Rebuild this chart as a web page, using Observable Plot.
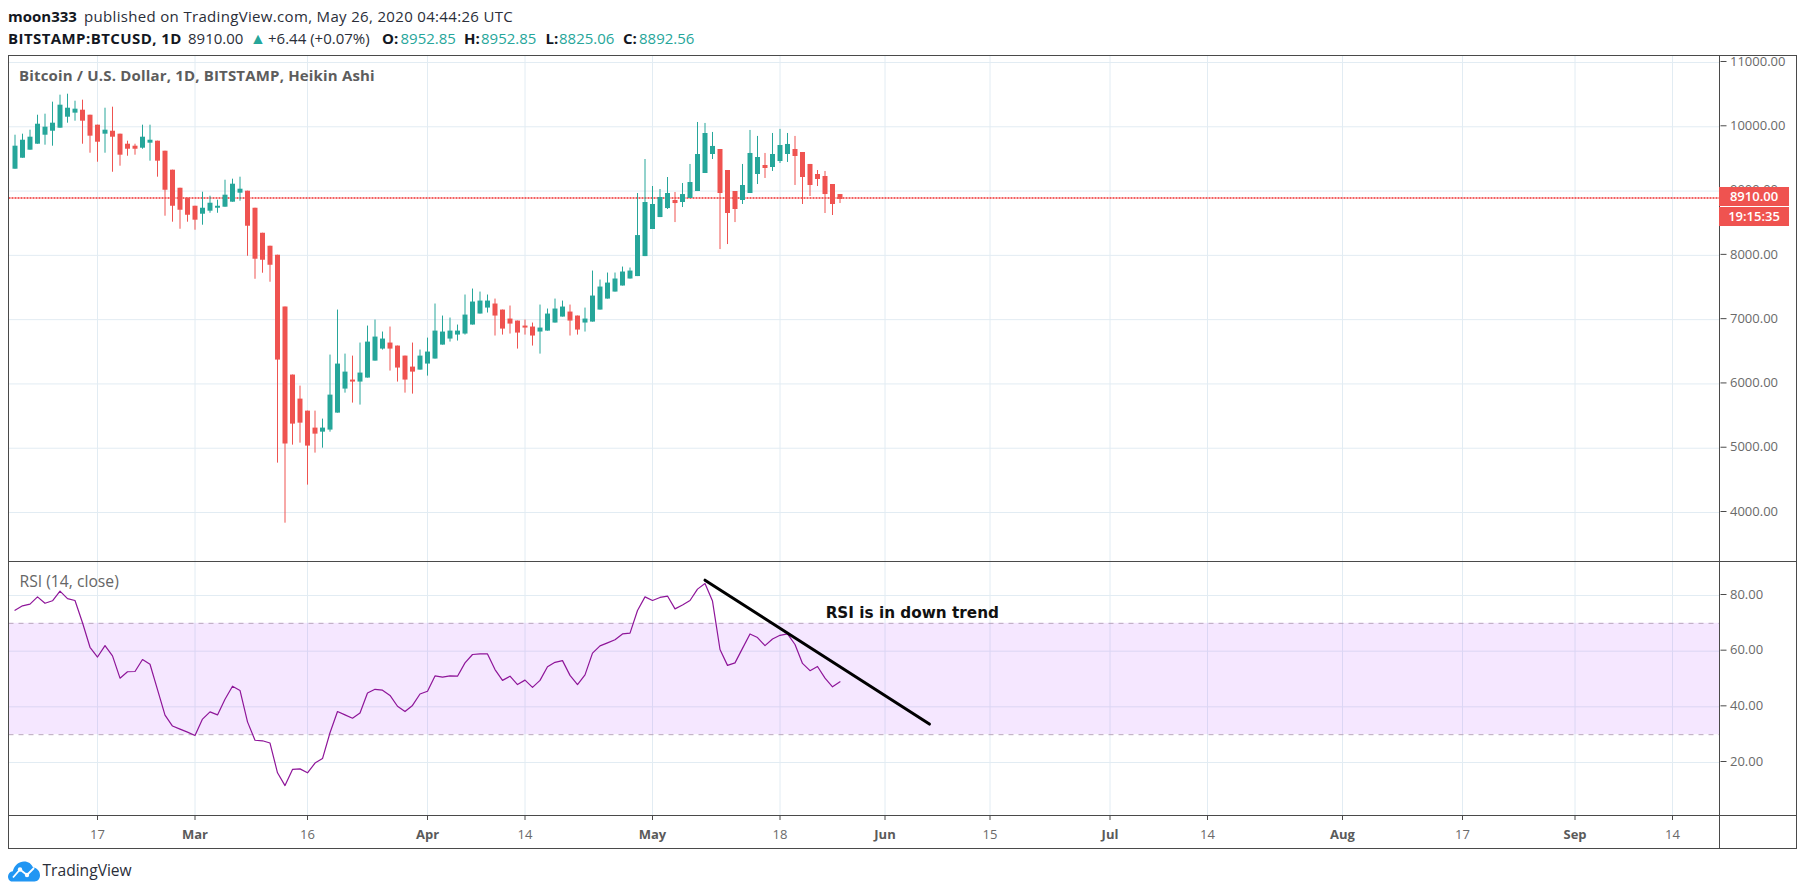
<!DOCTYPE html>
<html>
<head>
<meta charset="utf-8">
<script src="https://cdn.jsdelivr.net/npm/d3@7"></script>
<script src="https://cdn.jsdelivr.net/npm/@observablehq/plot@0.6"></script>
<style>
html,body{margin:0;padding:0;background:#fff;width:1805px;height:895px;overflow:hidden}
#page{position:relative;width:1805px;height:895px;font-family:"Open Sans",sans-serif}
.t{position:absolute;white-space:nowrap;line-height:1}
.b{font-weight:700;color:#131722}
.r{color:#2a2e39}
.g{color:#26a69a}
.ln{position:absolute;background:#4a4a4a}
.tag{position:absolute;left:1719px;width:70px;height:19px;background:#ef5350;color:#fff;font-weight:600;font-size:13px;line-height:19px;text-align:center}
svg.plot{position:absolute;left:0}
</style>
</head>
<body>
<div id="page"></div>
<script>
const startDate = "2020-02-06";
const opens = [9340,9511,9636,9729,9869,9931,9978,10149,10212,10258,10180,10025,9885,9931,9885,9729,9698,9667,9745,9776,9620,9325,9044,8889,8764,8640,8687,8733,8749,8827,8967,8998,8733,8344,8142,8002,7196,6138,5764,5577,5313,5250,5282,5546,5920,6060,6029,6091,6355,6542,6636,6589,6433,6262,6215,6309,6387,6604,6698,6760,6776,6916,7087,7180,7243,7149,7009,6978,6900,6885,6807,6822,6947,7040,7118,7056,6947,6962,7149,7320,7429,7523,7632,7670,7981,8402,8588,8728,8853,8822,8884,8993,9273,9569,9647,9320,8993,8853,8962,9258,9398,9367,9460,9569,9647,9600,9414,9258,9227,9102,8946];
const highs = [9869,9885,9947,10180,10196,10383,10492,10507,10398,10414,10180,10025,10289,10305,9885,9776,9729,10025,10025,9776,9620,9325,9044,8889,8764,8982,8920,8858,9169,9185,9216,8998,8733,8344,8142,8002,7196,6138,5966,5577,5577,5453,6449,7149,6464,6433,6636,6900,6994,6807,6885,6589,6433,6636,6527,6713,7243,7056,7025,6916,7383,7476,7429,7383,7320,7149,7212,6978,6994,6947,7227,7165,7320,7289,7227,7056,7180,7756,7616,7725,7725,7818,7803,8962,9491,9071,9024,9211,8978,9118,9414,10067,10052,9912,9647,9320,8993,9414,9943,9850,9585,9896,9959,9896,9850,9600,9414,9320,9305,9102,8946];
const lows = [9340,9511,9636,9729,9714,9698,9978,10056,10087,9729,9589,9449,9589,9293,9387,9542,9558,9651,9465,9216,8609,8516,8406,8516,8391,8469,8655,8655,8749,8827,8842,7986,7628,7722,7582,4768,3834,5048,5079,4426,4924,5001,5250,5546,5857,5702,5671,6091,6355,6527,6200,6029,5857,5842,6215,6122,6387,6604,6651,6667,6760,6916,7087,7103,6745,6760,6776,6542,6760,6589,6464,6822,6947,7040,6745,6760,6807,6962,7149,7320,7429,7523,7632,7670,7981,8402,8588,8713,8510,8744,8884,8993,9273,9491,8090,8168,8510,8791,8962,9102,9196,9305,9429,9445,9087,8791,8915,9071,8651,8620,8806];
const closes = [9698,9791,9838,10040,9994,10056,10336,10289,10274,10087,9854,9760,9947,9838,9558,9651,9651,9838,9791,9465,9013,8764,8702,8624,8547,8733,8811,8764,8936,9107,9029,8453,7940,7924,7846,6371,5064,5375,5390,5033,5219,5313,5826,6309,6184,6029,6169,6651,6729,6698,6542,6247,6060,6184,6433,6496,6822,6807,6822,6822,7071,7274,7289,7289,7056,6853,6931,6791,6869,6745,6869,7087,7165,7196,6978,6838,7009,7367,7507,7569,7632,7741,7756,8308,8822,8791,8900,8962,8806,8946,9133,9569,9896,9694,8962,8651,8713,9087,9585,9522,9351,9569,9709,9725,9538,9211,9087,9180,8946,8791,8869];
const rsi = [74.7,76.3,76.9,79.5,77.2,78.1,81.6,78.9,78.2,70.2,61.4,57.9,62.0,58.3,50.3,52.6,52.7,57.0,55.3,46.2,37.0,33.1,32.0,30.9,29.7,35.6,38.2,37.1,42.7,47.4,45.9,34.6,28.0,27.8,27.0,16.3,11.7,17.5,17.7,16.3,19.8,21.4,30.7,38.3,37.1,35.9,37.8,45.0,46.3,46.0,44.1,40.2,38.3,40.5,44.6,45.6,51.1,50.7,51.1,51.0,55.8,58.8,59.0,59.0,53.4,49.5,51.0,48.0,49.6,47.0,49.5,54.4,56.0,56.6,51.3,48.0,51.5,59.3,61.9,63.0,64.1,66.2,66.5,74.6,79.5,78.2,79.3,79.8,75.2,76.6,78.2,82.3,84.3,78.0,60.6,54.9,55.8,61.0,66.2,64.9,62.0,64.4,65.7,66.2,62.4,55.6,53.0,54.5,50.3,47.2,49.0];

const priceTicks = [4000,5000,6000,7000,8000,9000,10000,11000];
const rsiTicks = [20,40,60,80];
const rsiBand = [30,70];
const dayTicks = ["2020-02-17","2020-03-16","2020-04-14","2020-05-18","2020-06-15","2020-07-14","2020-08-17","2020-09-14"].map(s=>new Date(s));
const monthTicks = ["2020-03-01","2020-04-01","2020-05-01","2020-06-01","2020-07-01","2020-08-01","2020-09-01"].map(s=>new Date(s));
const lastClose = 8892.56;
const trendDates = ["2020-05-08T00:00Z","2020-06-06T22:00Z"].map(s=>new Date(s));
const trendValues = [85.5,33.8];
const noteDate = new Date("2020-05-24T02:00Z");
const noteValue = 71.8;
const xDomain = [new Date("2020-02-05T04:48Z"), new Date("2020-09-20T08:00Z")];

const TEAL="#26a69a", RED="#ef5350", GRID="#e2ecf3", FONT='"Open Sans",sans-serif';
const t0 = new Date(startDate);
const candles = opens.map((o,i)=>({date:d3.utcDay.offset(t0,i),open:o,high:highs[i],low:lows[i],close:closes[i],color:closes[i]>=o?TEAL:RED}));
const rsiRows = rsi.map((v,i)=>({date:d3.utcDay.offset(t0,i),value:v}));
const allDates = dayTicks.concat(monthTicks);
const common = {width:1805,marginLeft:8.5,marginRight:85.5,style:{fontFamily:FONT,fontSize:"13px",background:"transparent",color:"#4a4a4a",overflow:"visible"}};

const price = Plot.plot({...common,height:562,marginTop:56,marginBottom:1,
  x:{type:"utc",domain:xDomain,axis:null},
  y:{domain:[3238,11093.3],label:null},
  color:{type:"identity"},
  marks:[
    Plot.ruleX(allDates,{stroke:GRID}),
    Plot.ruleY(priceTicks,{stroke:GRID}),
    Plot.ruleY([lastClose],{stroke:"#f02e2e",strokeWidth:1.3,strokeDasharray:"2,1"}),
    Plot.ruleX(candles,{x:"date",y1:"low",y2:"high",stroke:"color",strokeWidth:1}),
    Plot.ruleX(candles,{x:"date",y1:"open",y2:"close",stroke:"color",strokeWidth:5}),
    Plot.axisY(priceTicks,{anchor:"right",tickSize:6,tickPadding:4,tickFormat:d=>d.toFixed(2),label:null,fill:"#6a6a6a",textStroke:"none",dy:-1})
  ]});

const rsiPlot = Plot.plot({...common,height:287,marginTop:0,marginBottom:33,
  x:{type:"utc",domain:xDomain},
  y:{domain:[0.6,91.86],label:null},
  marks:[
    Plot.ruleX(allDates,{stroke:GRID}),
    Plot.ruleY(rsiTicks,{stroke:GRID}),
    Plot.rect([rsiBand],{x1:()=>xDomain[0],x2:()=>xDomain[1],y1:d=>d[0],y2:d=>d[1],fill:"#9915ff",fillOpacity:0.1}),
    Plot.ruleY(rsiBand,{stroke:"#b8a6bd",strokeDasharray:"5,5"}),
    Plot.line(rsiRows,{x:"date",y:"value",stroke:"#8e1599",strokeWidth:1.2}),
    Plot.line(trendDates.map((d,i)=>({d,v:trendValues[i]})),{x:"d",y:"v",stroke:"#000",strokeWidth:3}),
    Plot.text([noteValue],{x:()=>noteDate,y:d=>d,text:()=>"RSI is in down trend",textAnchor:"start",lineAnchor:"bottom",fontFamily:"DejaVu Sans",fontWeight:"bold",fontSize:15.25,fill:"#111"}),
    Plot.axisY(rsiTicks,{anchor:"right",tickSize:6,tickPadding:4,tickFormat:d=>d.toFixed(2),label:null,fill:"#6a6a6a",dy:-1}),
    Plot.axisX(dayTicks,{anchor:"bottom",tickSize:4,tickPadding:9,tickFormat:d3.utcFormat("%-d"),label:null,fill:"#6a6a6a"}),
    Plot.axisX(monthTicks,{anchor:"bottom",tickSize:4,tickPadding:9,tickFormat:d3.utcFormat("%b"),label:null,fill:"#5a5a5a",fontWeight:"bold"})
  ]});

const page = document.getElementById("page");
price.style.top="0px"; rsiPlot.style.top="561px";
page.append(price,rsiPlot);

function line(l,t,w,h){const e=document.createElement("div");e.className="ln";e.style.cssText=`left:${l}px;top:${t}px;width:${w}px;height:${h}px`;page.append(e)}
line(8,55,1789,1);line(8,561,1789,1);line(8,815,1789,1);line(8,848,1789,1);
line(8,55,1,794);line(1719,55,1,794);line(1796,55,1,794);

function txt(s,l,base,size,cls,extra){const e=document.createElement("div");e.className="t "+cls;e.textContent=s;e.style.cssText=`left:${l}px;top:${base-size*0.86}px;font-size:${size}px;${extra||""}`;page.append(e)}
txt("moon333",8,22,15,"b");
txt("published on TradingView.com, May 26, 2020 04:44:26 UTC",84,22,15,"r","letter-spacing:.33px");
txt("BITSTAMP:BTCUSD, 1D",8,44,15,"b","letter-spacing:.42px");
txt("8910.00",188,44,15,"r");
txt("▲",250,44,16,"g");
txt("+6.44 (+0.07%)",268,44,15,"r");
txt("O:",382,44,15,"b");txt("8952.85",400.5,44,15,"g");
txt("H:",464,44,15,"b");txt("8952.85",481,44,15,"g");
txt("L:",545.5,44,15,"b");txt("8825.06",559,44,15,"g");
txt("C:",623,44,15,"b");txt("8892.56",639,44,15,"g");
txt("Bitcoin / U.S. Dollar, 1D, BITSTAMP, Heikin Ashi",19,81,15,"","font-weight:700;color:#5d5d5d;letter-spacing:.17px");
txt("RSI (14, close)",19.5,588,15.7,"","color:#666");
txt("TradingView",42.5,876,15.6,"","color:#2a2e39");

for(const [s,top] of [["8910.00",187],["19:15:35",207]]){const e=document.createElement("div");e.className="tag";e.textContent=s;e.style.top=top+"px";page.append(e)}

page.insertAdjacentHTML("beforeend",`<svg style="position:absolute;left:8px;top:861px" width="33" height="21" viewBox="0 0 33 21"><path d="M4 20.5C1.5 20.5 0 18 0 15.5C0 12.8 2 10.6 4.8 10.2C6.5 4 11 .5 16 .5C20.6.5 23.3 2.8 25 6.4C29.5 6.8 32 10.5 32 14.3C32 18 29.7 20.5 26.5 20.5Z" fill="#2196f3"/><path d="M5 16.5L12 8.5L19 14L26 7" fill="none" stroke="#fff" stroke-width="1.8"/><circle cx="12" cy="8.5" r="2.2" fill="#fff"/><circle cx="19" cy="14" r="2.2" fill="#fff"/></svg>`);
</script>
</body>
</html>
